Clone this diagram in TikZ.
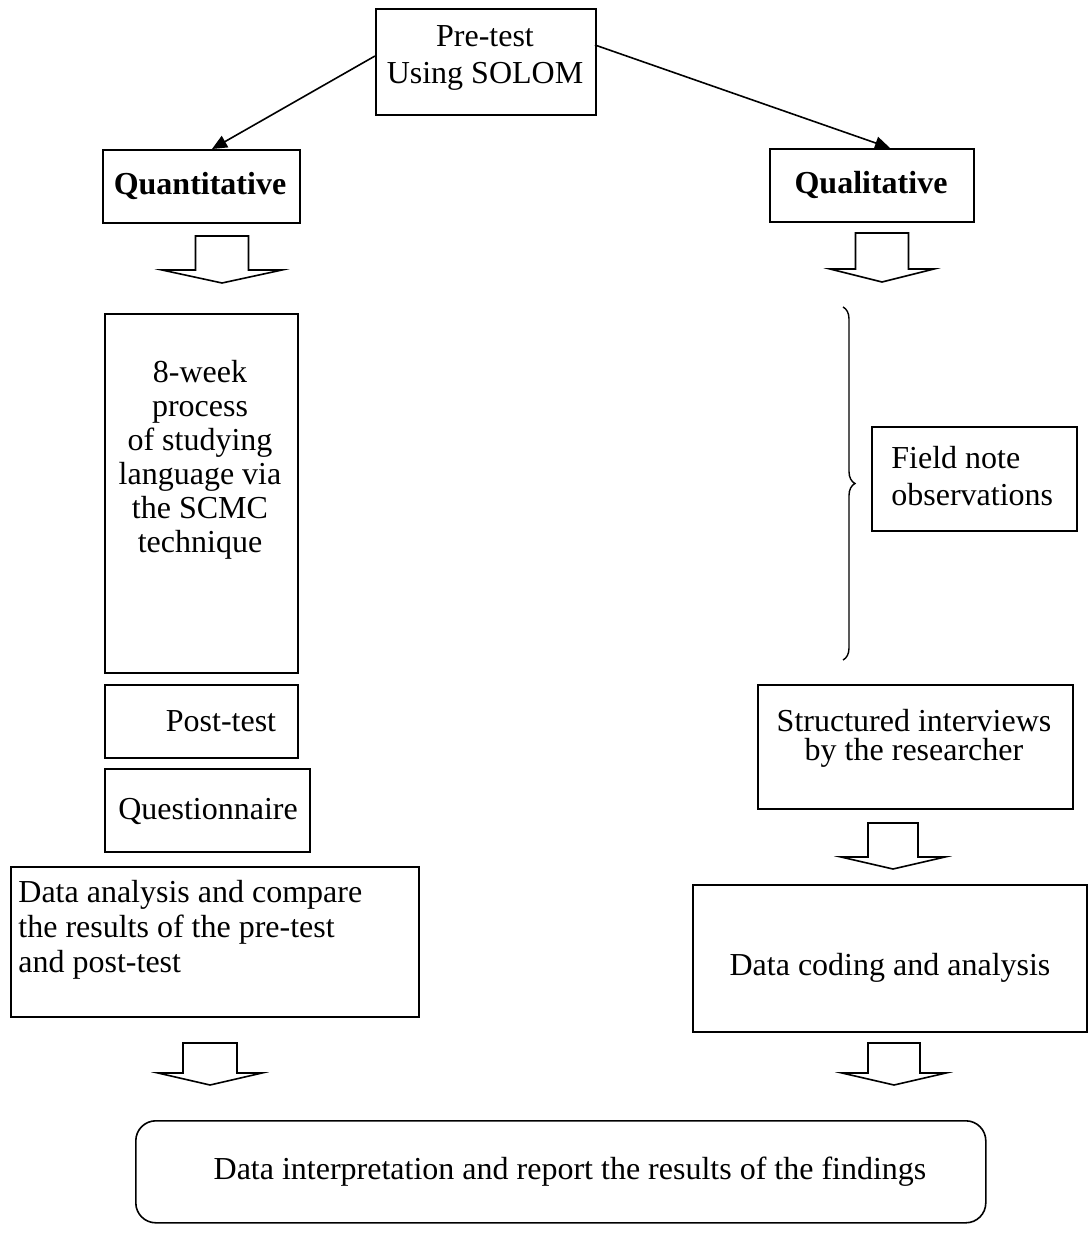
\documentclass[tikz,border=0pt]{standalone}
\usepackage{fontspec}
\setmainfont{Liberation Serif}
\usetikzlibrary{arrows.meta,decorations.pathreplacing}
\newcommand\blockarr[7]{% name, x, ytop, shaft half, shaft len, head half, head len
  \draw[barrow] ({#2-#4},#3) coordinate (#1-tl) -- ({#2+#4},#3) -- ({#2+#4},{#3+#5}) -- ({#2+#6},{#3+#5})
    -- (#2,{#3+#5+#7}) coordinate (#1-tip) -- ({#2-#6},{#3+#5}) -- ({#2-#4},{#3+#5}) -- cycle;}
\begin{document}
\begin{tikzpicture}[x=0.5pt,y=-0.5pt,
  font=\fontsize{16pt}{18.5pt}\selectfont,
  box/.style={draw,line width=0.8pt,inner sep=0pt,anchor=north west},
  txt/.style={inner sep=0pt,align=center},
  barrow/.style={draw,line width=0.8pt,line join=miter,fill=white},
  conn/.style={line width=0.8pt,-{Triangle[length=7.5pt,width=6.5pt]}}]
\useasboundingbox (0,0) rectangle (1091,1247);
% boxes
\node[box,minimum width=110pt,minimum height=53pt] (pre) at (375,8) {};
\node[txt,font=\fontsize{16pt}{18.5pt}\selectfont] (pret) at (485,58) {Pre-test\\Using SOLOM};
\node[box,minimum width=98.5pt,minimum height=36.5pt] (quan) at (102,149) {};
\node[txt,font=\fontsize{16pt}{18.5pt}\selectfont\bfseries] (quant) at (200,186) {Quantitative};
\node[box,minimum width=102pt,minimum height=36.5pt] (qual) at (769,148) {};
\node[txt,font=\fontsize{16pt}{18.5pt}\selectfont\bfseries] (qualt) at (871,185) {Qualitative};
% connectors from pre-test
\coordinate (preL) at (375,56);
\coordinate (preR) at (595,45);
\coordinate (quanT) at (212,149);
\coordinate (qualT) at (890,148);
\draw[conn] (preL) -- (quanT);
\draw[conn] (preR) -- (qualT);
% block arrows
\blockarr{ba1}{222}{236}{26.5}{34}{60}{13}
\blockarr{ba2}{882}{233}{26.5}{36}{52}{13}
% 8-week
\node[box,minimum width=96.5pt,minimum height=179.5pt] (week) at (104,313) {};
\node[txt,font=\fontsize{16pt}{17pt}\selectfont] (weekt) at (200,460) {8-week\\process\\of studying\\language via\\the SCMC\\technique};
% brace and field notes
\coordinate (brT) at (843,307);
\coordinate (brB) at (843,660);
\draw[line width=0.7pt,decorate,decoration={brace,amplitude=6pt}] (brT) -- (brB);
\node[box,minimum width=102.5pt,minimum height=52pt] (field) at (871,426) {};
\node[txt,align=left,anchor=west,font=\fontsize{16pt}{18.5pt}\selectfont] (fieldt) at (891,476) {Field note\\observations};
% post-test & questionnaire
\node[box,minimum width=96.5pt,minimum height=36.5pt] (post) at (104,684) {};
\node[txt] (postt) at (221,721) {Post-test};
\node[box,minimum width=102.5pt,minimum height=41.5pt] (quest) at (104,768) {};
\node[txt] (questt) at (208,811) {Questionnaire};
% structured interviews
\node[box,minimum width=157.5pt,minimum height=62pt] (struct) at (757,684) {};
\node[txt,font=\fontsize{16pt}{14.5pt}\selectfont] (structt) at (914,738) {Structured interviews\\by the researcher};
\blockarr{ba3}{893}{823}{25}{34}{52}{12}
% data analysis
\node[box,minimum width=204pt,minimum height=75pt] (dan) at (10,866) {};
\node[txt,align=left,anchor=north west,font=\fontsize{16pt}{17.5pt}\selectfont] (dant) at (18,880) {Data analysis and compare\\the results of the pre-test\\and post-test};
\node[box,minimum width=197pt,minimum height=73.5pt] (dcod) at (692,884) {};
\node[txt] (dcodt) at (890,968) {Data coding and analysis};
% bottom
\blockarr{ba4}{210}{1043}{27}{30}{52}{12}
\blockarr{ba5}{894}{1043}{26}{30}{52}{12}
\node[box,rounded corners=10pt,minimum width=425pt,minimum height=51pt] (final) at (135,1120) {};
\node[txt] (finalt) at (570,1172) {Data interpretation and report the results of the findings};
\end{tikzpicture}
\end{document}
